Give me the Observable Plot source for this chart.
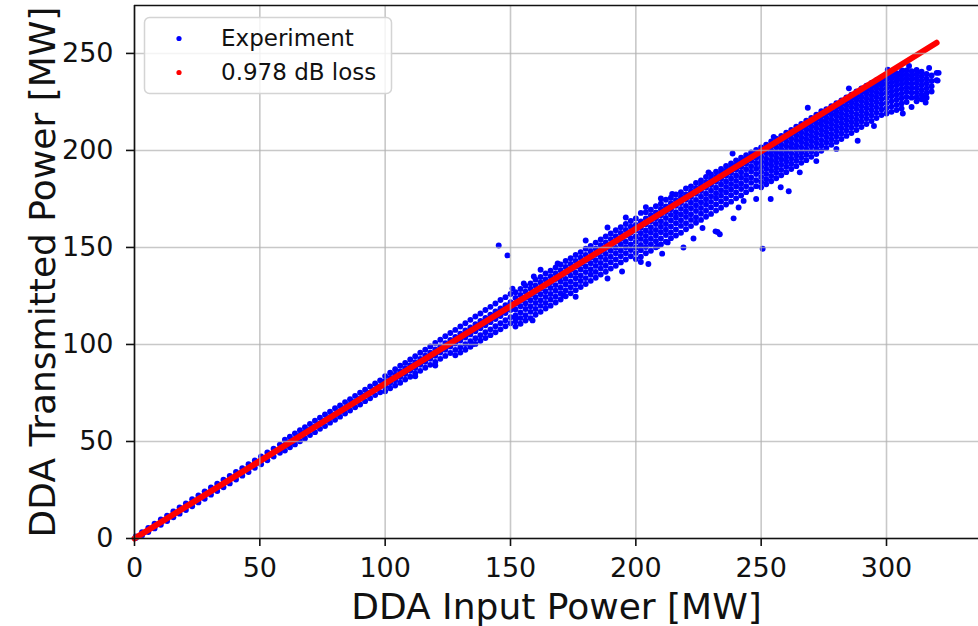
<!DOCTYPE html>
<html>
<head>
<meta charset="utf-8">
<script src="https://cdn.jsdelivr.net/npm/d3@7"></script>
<script src="https://cdn.jsdelivr.net/npm/@observablehq/plot@0.6"></script>
<style>
  body { margin: 0; background: #fff; }
  #chart { position: relative; width: 978px; height: 626px; }
</style>
</head>
<body>
<div id="chart"></div>
<script>
// ---- data ----
const xLabel = "DDA Input Power [MW]";
const yLabel = "DDA Transmitted Power [MW]";
const seriesNames = ["Experiment", "0.978 dB loss"];
const seriesColors = ["#0000ff", "#ff0000"];
const xTicks = [0, 50, 100, 150, 200, 250, 300];
const yTicks = [0, 50, 100, 150, 200, 250];
const xDomain = [0, 336.7];
const yDomain = [0, 274.7];

// Experiment: rows of [input power, transmitted power values ...]
const experimentRows = [
  [0.5, 1.0, 0.2], [3, 3.3, 1.5], [5.5, 5.5, 3.3], [8, 7.6, 5.2], [10.5, 9.8, 7.1],
  [13, 11.8, 9.0], [15.5, 13.9, 10.9], [18, 16.0, 12.8], [20.5, 18.1, 14.7], [23, 20.2, 16.6],
  [25.5, 22.2, 18.6], [28, 24.3, 20.5], [30.5, 26.3, 22.6], [33, 28.2, 24.5], [35.5, 30.3, 26.4],
  [38, 32.2, 28.4], [40.5, 34.3, 30.4], [43, 36.2, 32.4], [45.5, 38.3, 34.3], [48, 40.2, 36.4],
  [50.5, 42.3, 38.3], [53, 44.3, 40.3], [55.5, 46.3, 42.2], [58, 48.4, 44.2],
  [60, 50.9, 48.2, 45.3], [62, 52.5, 49.8, 47.0], [64, 54.2, 51.3, 48.5], [66, 55.8, 53.0, 50.1],
  [68, 57.4, 54.6, 51.6], [70, 59.0, 56.1, 53.3], [72, 60.7, 57.8, 54.8], [74, 62.2, 59.3, 56.5],
  [76, 63.9, 61.0, 58.0], [78, 65.4, 62.6, 59.7], [80, 67.1, 64.1, 61.2], [82, 68.6, 65.8, 62.8],
  [84, 70.3, 67.3, 64.4], [86, 71.8, 69.0, 66.0], [88, 73.5, 70.5, 67.6], [90, 75.1, 72.2, 69.1],
  [92, 76.7, 73.8, 70.8], [94, 78.3, 75.3, 72.3], [96, 79.9, 76.9, 73.9], [98, 81.5, 78.5, 75.4],
  [100, 83.7, 81.1, 78.5, 75.9], [102, 85.4, 82.8, 80.1, 77.4], [104, 87.2, 84.4, 81.6, 78.8],
  [106, 89.0, 86.1, 83.2, 80.3], [108, 90.5, 87.6, 84.8, 81.9], [110, 92.3, 89.3, 86.4, 83.4],
  [112, 93.9, 90.9, 87.9, 85.0], [114, 95.7, 92.5, 89.5, 86.4], [116, 97.3, 94.2, 91.1, 88.0],
  [118, 99.0, 95.8, 92.6, 89.5], [120, 100.8, 97.4, 94.2, 91.0], [122, 102.4, 99.0, 95.8, 92.6],
  [124, 104.2, 100.7, 97.3, 94.1], [126, 105.9, 102.3, 98.9, 95.6],
  [128, 107.5, 103.9, 100.5, 97.2, 94.4], [130, 109.3, 105.6, 102.0, 98.6, 95.8],
  [132, 110.9, 107.2, 103.6, 100.2, 97.3], [134, 112.7, 108.8, 105.2, 101.7, 98.8],
  [136, 114.4, 110.5, 106.8, 103.2, 100.3], [138, 116.0, 112.1, 108.3, 104.8, 101.9],
  [140, 117.8, 113.7, 109.9, 106.3, 103.3], [142, 119.4, 115.4, 111.5, 107.8, 104.8],
  [144, 121.1, 117.0, 113.1, 109.4, 106.3], [146, 122.9, 118.6, 114.7, 110.9, 107.8],
  [148, 124.4, 120.2, 116.2, 112.5, 109.4], [150, 126.0, 121.8, 117.8, 114.0, 110.9],
  [152, 126.9, 124.0, 121.0, 118.0, 115.0, 112.0, 109.2],
  [154, 128.6, 125.5, 122.6, 119.7, 116.5, 113.6, 110.7],
  [156, 130.2, 127.2, 124.1, 121.2, 118.3, 115.1, 112.3],
  [158, 131.5, 128.8, 125.7, 122.8, 119.7, 116.8, 113.6],
  [160, 133.4, 130.3, 127.3, 124.3, 121.4, 118.3, 115.3],
  [162, 134.8, 131.9, 128.9, 125.9, 122.8, 119.9, 116.8],
  [164, 136.6, 133.5, 130.5, 127.4, 124.5, 121.4, 118.5],
  [166, 138.0, 135.1, 132.1, 129.1, 126.0, 123.1, 120.0],
  [168, 139.7, 136.6, 133.7, 130.6, 127.7, 124.6, 121.6],
  [170, 141.2, 138.3, 135.2, 132.3, 129.2, 126.3, 123.2],
  [172, 143.0, 139.9, 136.9, 133.8, 130.9, 127.8, 124.8],
  [174, 144.4, 141.5, 138.4, 135.5, 132.4, 129.5, 126.4],
  [176, 146.1, 143.0, 140.1, 137.0, 134.1, 131.0, 128.0],
  [178, 147.6, 144.7, 141.6, 138.7, 135.6, 132.7, 129.6],
  [180, 149.3, 146.2, 143.3, 140.2, 137.3, 134.2, 131.2],
  [182, 150.8, 147.9, 144.8, 141.9, 138.8, 135.9, 132.8],
  [184, 152.5, 149.4, 146.5, 143.4, 140.5, 137.4, 134.4],
  [186, 154.1, 151.1, 148.0, 145.1, 142.0, 139.1, 136.0],
  [188, 155.7, 152.6, 149.7, 146.6, 143.7, 140.6, 137.5],
  [190, 157.2, 154.3, 151.2, 148.3, 145.2, 142.3, 139.1],
  [192, 158.9, 155.8, 152.9, 149.8, 146.9, 143.8, 140.6],
  [194, 160.4, 157.5, 154.4, 151.5, 148.4, 145.5, 142.3],
  [196, 162.1, 159.0, 156.1, 153.0, 150.1, 147.0, 143.8],
  [198, 163.6, 160.7, 157.6, 154.7, 151.6, 148.7, 145.5],
  [200, 164.9, 161.6, 158.8, 155.7, 152.9, 150.0, 147.1, 144.0],
  [202, 167.8, 163.4, 160.1, 157.3, 154.4, 151.3, 148.6, 145.2, 142.5],
  [204, 168.2, 164.9, 161.9, 158.8, 155.9, 153.1, 150.2, 147.0],
  [206, 169.4, 166.6, 163.5, 160.4, 157.6, 154.5, 151.6, 148.3],
  [208, 171.3, 168.0, 165.0, 162.1, 159.0, 156.2, 153.2, 150.1],
  [210, 172.5, 169.8, 166.6, 163.5, 160.7, 157.8, 154.6, 151.5],
  [212, 174.6, 171.1, 168.3, 165.2, 162.1, 159.2, 156.4, 153.0],
  [214, 175.6, 172.8, 169.7, 166.8, 163.9, 160.8, 157.7, 154.8],
  [216, 177.3, 174.4, 171.5, 168.2, 165.4, 162.5, 159.3, 156.2],
  [218, 178.5, 175.9, 172.9, 169.9, 167.0, 164.0, 161.1, 157.6],
  [220, 180.4, 177.3, 174.6, 171.4, 168.5, 165.7, 162.5, 159.4],
  [222, 181.5, 178.9, 176.0, 173.1, 170.2, 167.1, 164.2, 161.0],
  [224, 183.2, 180.4, 177.7, 174.5, 171.7, 168.8, 165.6, 162.7],
  [226, 184.5, 181.9, 179.1, 176.2, 173.3, 170.3, 167.4, 164.2],
  [228, 186.3, 183.5, 180.8, 177.7, 174.9, 172.0, 168.9, 165.8],
  [230, 187.6, 185.0, 182.2, 179.3, 176.4, 173.5, 170.6, 167.3],
  [232, 189.1, 186.5, 183.9, 180.8, 178.0, 175.2, 172.1, 169.0],
  [234, 190.4, 188.1, 185.3, 182.5, 179.5, 176.7, 173.7, 170.5],
  [236, 192.0, 189.6, 186.9, 184.0, 181.2, 178.3, 175.2, 172.1],
  [238, 193.3, 191.0, 188.4, 185.6, 182.7, 179.9, 176.9, 173.6],
  [240, 194.9, 192.6, 190.0, 187.1, 184.3, 181.4, 178.4, 175.3],
  [242, 196.2, 194.0, 191.5, 188.7, 185.9, 183.0, 180.1, 176.8],
  [244, 197.6, 195.5, 193.1, 190.3, 187.4, 184.6, 181.6, 178.5],
  [246, 199.0, 196.9, 194.6, 191.8, 189.1, 186.1, 183.3, 180.0],
  [248, 200.3, 198.4, 196.1, 193.4, 190.6, 187.8, 184.7, 181.6],
  [250, 201.6, 199.4, 196.9, 194.3, 191.7, 189.0, 186.4, 183.7, 181.0],
  [252, 202.9, 200.8, 198.5, 195.8, 193.3, 190.6, 187.9, 185.2, 182.6],
  [254, 204.6, 202.3, 199.9, 197.5, 194.8, 192.2, 189.6, 186.8, 184.1],
  [256, 206.0, 203.8, 201.6, 198.9, 196.4, 193.8, 191.1, 188.5, 185.7],
  [258, 207.5, 205.5, 203.0, 200.5, 198.0, 195.3, 192.7, 190.0, 187.2],
  [260, 209.1, 206.9, 204.6, 202.1, 199.5, 196.9, 194.3, 191.6, 188.8],
  [262, 210.5, 208.5, 206.1, 203.6, 201.1, 198.5, 195.8, 193.2, 190.4],
  [264, 212.2, 209.9, 207.7, 205.2, 202.6, 200.1, 197.4, 194.7, 191.9],
  [266, 213.6, 211.5, 209.2, 206.7, 204.2, 201.6, 199.0, 196.3, 193.6],
  [268, 215.3, 213.0, 210.8, 208.3, 205.8, 203.2, 200.5, 197.8, 195.0],
  [270, 216.7, 214.6, 212.3, 209.9, 207.3, 204.8, 202.1, 199.4, 196.7],
  [272, 218.4, 216.1, 213.9, 211.4, 208.9, 206.3, 203.7, 200.9, 198.2],
  [274, 220.2, 217.6, 215.3, 213.0, 210.4, 207.9, 205.2, 202.6, 199.8],
  [276, 221.3, 219.2, 216.9, 214.5, 212.0, 209.4, 206.8, 204.1, 201.3],
  [278, 222.8, 220.7, 218.5, 216.0, 213.5, 211.0, 208.4, 205.6, 202.9],
  [280, 224.4, 222.2, 220.0, 217.6, 215.1, 212.5, 209.9, 207.2, 204.4],
  [282, 225.8, 223.7, 221.5, 219.1, 216.6, 214.0, 211.4, 208.7, 205.9],
  [284, 227.3, 225.3, 223.1, 220.7, 218.2, 215.6, 213.0, 210.3, 207.5],
  [286, 228.7, 226.8, 224.6, 222.2, 219.7, 217.1, 214.5, 211.8, 209.0],
  [288, 230.4, 228.2, 226.1, 223.7, 221.3, 218.7, 216.0, 213.4, 210.5],
  [290, 231.9, 229.8, 227.6, 225.3, 222.8, 220.2, 217.6, 214.9, 212.1],
  [292, 233.4, 231.3, 229.2, 226.8, 224.3, 221.8, 219.1, 216.4, 213.6],
  [294, 234.8, 232.8, 230.7, 228.3, 225.9, 223.3, 220.7, 218.0, 215.2],
  [296, 236.2, 234.3, 232.2, 229.9, 227.4, 224.9, 222.2, 219.5, 216.7],
  [298, 237.6, 235.8, 233.7, 231.4, 229.0, 226.4, 223.8, 221.1, 218.3],
  [300, 238.4, 236.5, 234.3, 232.0, 229.6, 227.0, 224.4, 221.8, 219.0],
  [302, 239.1, 237.2, 235.1, 232.8, 230.4, 227.9, 225.3, 222.6, 219.9],
  [304, 239.8, 237.9, 235.8, 233.6, 231.1, 228.7, 226.1, 223.4, 220.8],
  [306, 240.6, 238.5, 236.4, 234.2, 231.8, 229.3, 226.9, 224.2, 221.6],
  [308, 241.2, 239.0, 237.0, 234.8, 232.5, 230.1, 227.6, 225.0],
  [310, 240.9, 238.8, 236.7, 234.4, 232.1, 229.7, 227.2],
  [312, 241.5, 239.1, 237.0, 234.6, 232.2, 229.8, 227.4, 225.3],
  [314, 240.6, 238.3, 236.0, 233.6, 231.1, 228.7, 226.4],
  [316, 239.4, 237.0, 234.5, 232.0, 229.6, 227.2],
  [318, 238.6, 235.8, 233.1, 230.4],
  [320, 240.0, 236.2]
];

// Experiment: scattered points at the edges of the band and outliers
const experimentScatter = [
  [162, 138.5], [168.8, 141.7], [150.8, 128.8], [155.3, 131.4], [159.3, 135], [180, 153.6],
  [188.7, 160.3], [196, 165.4], [204, 170.8], [210, 175.2], [214.5, 177.6], [229, 188.7],
  [238.6, 198.4], [255, 207], [268.6, 222], [285, 232], [306.3, 241.2], [312.3, 240.4],
  [320.8, 240], [320.4, 236], [317, 242.5], [309, 243.5], [300.5, 241.6],
  [152, 113.4], [158.8, 112.4], [171.2, 125.3], [188.7, 134], [176, 124.6], [194.5, 137.6],
  [205, 141.5], [210.5, 146.8], [219, 150], [223, 154.6], [226.6, 160], [232.6, 158],
  [233.5, 156.8], [231.8, 158.3], [239, 165], [241, 170.6], [243, 174], [248, 175],
  [250.6, 149.3], [253.8, 175], [257.8, 181], [261, 179], [265.4, 188.7], [272, 194.5],
  [280, 200.8], [288.5, 205], [295, 212.6], [306.5, 219], [310, 222.4], [315.6, 224.7],
  [315.6, 227.5], [145.3, 151], [148.8, 145.9], [120, 89.2], [135, 100.2], [112, 83.6],
  [212.7, 152.6], [208.7, 150.6]
];

// 0.978 dB loss line
const lossX = [0, 80, 160, 240, 320];
const lossY = [0, 63.9, 127.7, 191.6, 255.5];

// ---- build tables ----
const experiment = experimentRows
  .flatMap(([x, ...ys]) => ys.map(y => ({x, y})))
  .concat(experimentScatter.map(([x, y]) => ({x, y})));
const loss = lossX.map((x, i) => ({x, y: lossY[i]}));

const font = "DejaVu Sans, sans-serif";
const gridStyle = {stroke: "#b0b0b0", strokeOpacity: 0.7, strokeWidth: 1.6};

const chart = Plot.plot({
  width: 978,
  height: 626,
  marginLeft: 134,
  marginRight: 0,
  marginTop: 5,
  marginBottom: 88,
  style: {fontFamily: font, background: "#fff", color: "#000"},
  x: {domain: xDomain},
  y: {domain: yDomain},
  marks: [
    Plot.dot(experiment, {x: "x", y: "y", r: 2.95, fill: seriesColors[0], stroke: "none"}),
    Plot.line(loss, {x: "x", y: "y", stroke: seriesColors[1], strokeWidth: 6, strokeLinecap: "round"}),
    Plot.gridX(xTicks, gridStyle),
    Plot.gridY(yTicks, gridStyle),
    Plot.ruleX([xDomain[0]], {stroke: "#111", strokeWidth: 1.6}),
    Plot.ruleY([yDomain[0], yDomain[1]], {stroke: "#111", strokeWidth: 1.6}),
    Plot.axisX(xTicks, {tickSize: 8, tickPadding: 11, fontSize: 27, stroke: "#111", strokeWidth: 1.6, fill: "#111", label: null}),
    Plot.axisY(yTicks, {tickSize: 8, tickPadding: 13, fontSize: 27, stroke: "#111", strokeWidth: 1.6, fill: "#111", label: null}),
    Plot.text([xLabel], {frameAnchor: "bottom", textAnchor: "middle", lineAnchor: "middle", dy: 68.5, fontSize: 36, fill: "#111", text: d => d}),
    Plot.text([yLabel], {frameAnchor: "left", textAnchor: "middle", lineAnchor: "middle", dx: -91, rotate: -90, fontSize: 36, fill: "#111", text: d => d})
  ]
});

document.getElementById("chart").appendChild(chart);

// ---- legend (upper left, inside the axes) ----
const svg = d3.select(chart);
const lg = svg.append("g").attr("font-family", font).attr("text-anchor", "start");
lg.append("rect")
  .attr("x", 144.5).attr("y", 17.5).attr("width", 247).attr("height", 76).attr("rx", 5)
  .attr("fill", "#fff").attr("fill-opacity", 0.8)
  .attr("stroke", "#d4d4d4").attr("stroke-width", 1.5);
seriesNames.forEach((name, i) => {
  const cy = 38.5 + i * 34;
  lg.append("circle").attr("cx", 179).attr("cy", cy).attr("r", 2.6).attr("fill", seriesColors[i]);
  lg.append("text").attr("x", 221).attr("y", cy + 7.5).attr("font-size", 23)
    .attr("text-anchor", "start").attr("fill", "#111").text(name);
});
</script>
</body>
</html>
